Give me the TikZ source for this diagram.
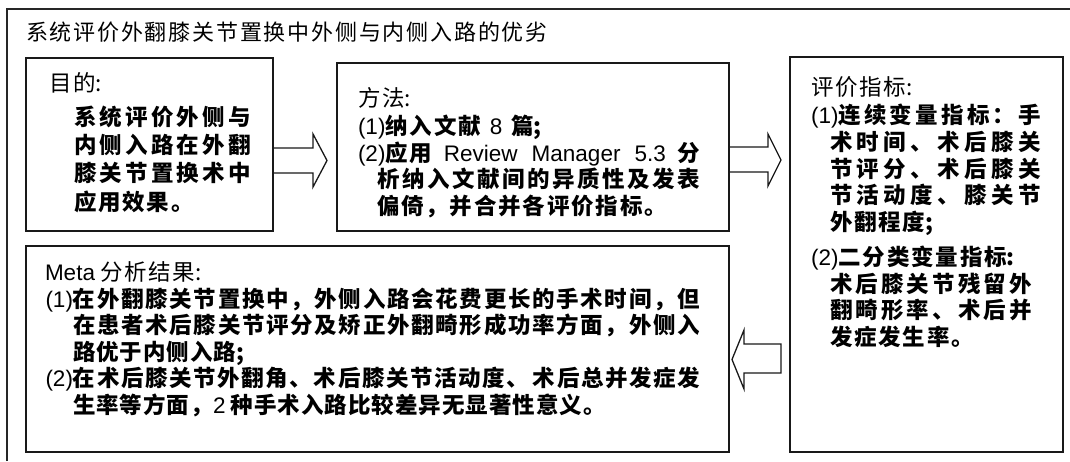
\documentclass[tikz,border=0pt]{standalone}
\usepackage{fontspec}
\setmainfont{Noto Sans CJK SC}
\newfontfamily\cjk{Noto Sans CJK SC}
\newfontfamily\lat{Liberation Sans}
\newcommand\La[1]{{\lat\mdseries #1}}
% inter-character glue for CJK text (allows justification)
\newdimen\cjkgap \cjkgap=1.8pt
\newcommand\tightgap{\cjkgap=1pt\relax}
\XeTeXinterchartokenstate=1
\chardef\cjkcls=20
\newcount\cjkcnt
\cjkcnt="4E00
\loop
  \XeTeXcharclass\cjkcnt=\cjkcls
  \advance\cjkcnt by 1
\ifnum\cjkcnt<"A000 \repeat
\XeTeXcharclass"3001=\cjkcls
\XeTeXcharclass"3002=\cjkcls
\XeTeXcharclass"FF0C=\cjkcls
\XeTeXcharclass"FF1A=\cjkcls
\XeTeXcharclass"FF1B=\cjkcls
\XeTeXinterchartoks\cjkcls\cjkcls={\hskip\cjkgap plus 3pt minus 1.5pt\relax}
\tikzset{
  box/.style={draw=black!90, line width=1.8pt, inner sep=0pt, outer sep=0pt, anchor=north west},
  tx/.style={anchor=base west, inner sep=0pt, outer sep=0pt},
  ttl/.style={font=\cjk\fontsize{22}{22}\selectfont},
  rg/.style={font=\cjk\fontsize{22.5}{22.5}\selectfont},
  bd/.style={font=\cjk\bfseries\fontsize{22.5}{22.5}\selectfont},
  bdn/.style={font=\cjk\bfseries\fontsize{22.5}{22.5}\selectfont\tightgap},
  barrow/.style={draw=black!90, line width=1.3pt, line join=miter},
  outerline/.style={draw=black!85, line width=1.5pt}
}
\begin{document}
\begin{tikzpicture}[x=1pt, y=-1pt]
\useasboundingbox (0,0) rectangle (1070,461);
\fill[white] (0,0) rectangle (1070,461);
\draw[outerline] (7,461) -- (7,9) -- (1070,9);
\node[ttl,tx] (title) at (26,40.6) {系统评价外翻膝关节置换中外侧与内侧入路的优劣};
% box 1
\node[box, minimum width=247pt, minimum height=173.3pt] (b1) at (25.7,57.7) {};
\node[rg,tx] (h1) at (49,91.4) {目的:};
\node[bd,tx] (p11) at (74,125.4) {\makebox[177pt][s]{系统评价外侧与}};
\node[bd,tx] (p12) at (74,153.7) {\makebox[177pt][s]{内侧入路在外翻}};
\node[bd,tx] (p13) at (74,181.7) {\makebox[177pt][s]{膝关节置换术中}};
\node[bd,tx] (p14) at (74,210.1) {应用效果。};
% box 2
\node[box, minimum width=392pt, minimum height=167.7pt] (b2) at (337,63.3) {};
\node[rg,tx] (h2) at (358,106.4) {方法:};
\node[bd,tx] (p21) at (358,134.6) {\La{(1)}纳入文献 \,\La{8}\, 篇;};
\node[bd,tx] (p22) at (358,161.3) {\makebox[342pt][s]{\La{(2)}\hbox{应用} \La{Review Manager 5.3} 分}};
\node[bd,tx] (p23) at (377,187.9) {\makebox[323pt][s]{析纳入文献间的异质性及发表}};
\node[bd,tx] (p24) at (377,214.6) {偏倚，并合并各评价指标。};
% box 3
\node[box, minimum width=273pt, minimum height=395.3pt] (b3) at (790,56.7) {};
\node[rg,tx] (h3) at (811,95.4) {评价指标:};
\node[bd,tx] (p31) at (811,123.7) {\makebox[230pt][s]{\La{(1)}连续变量指标：手}};
\node[bd,tx] (p32) at (830,150.4) {\makebox[211pt][s]{术时间、术后膝关}};
\node[bd,tx] (p33) at (830,177) {\makebox[211pt][s]{节评分、术后膝关}};
\node[bd,tx] (p34) at (830,203.7) {\makebox[211pt][s]{节活动度、膝关节}};
\node[bd,tx] (p35) at (830,230.7) {外翻程度;};
\node[bd,tx] (p36) at (811,265.4) {\La{(2)}二分类变量指标:};
\node[bd,tx] (p37) at (830,292) {\makebox[202pt][s]{术后膝关节残留外}};
\node[bd,tx] (p38) at (830,318.7) {\makebox[202pt][s]{翻畸形率、术后并}};
\node[bd,tx] (p39) at (830,345.4) {发症发生率。};
% box 4
\node[box, minimum width=703.3pt, minimum height=206pt] (b4) at (25.7,246) {};
\node[rg,tx] (h4) at (45,280.4) {\La{Meta} 分析结果:};
\node[bdn,tx] (p41) at (45.5,307) {\makebox[654.5pt][s]{\La{(1)}在外翻膝关节置换中，外侧入路会花费更长的手术时间，但}};
\node[bdn,tx] (p42) at (73,333.7) {\makebox[627pt][s]{在患者术后膝关节评分及矫正外翻畸形成功率方面，外侧入}};
\node[bdn,tx] (p43) at (73,360.4) {路优于内侧入路;};
\node[bdn,tx] (p44) at (45.5,386.4) {\makebox[654.5pt][s]{\La{(2)}在术后膝关节外翻角、术后膝关节活动度、\,术后总并发症发}};
\node[bdn,tx] (p45) at (73,413.7) {生率等方面，\La{2} 种手术入路比较差异无显著性意义。};
% block arrows
\draw[barrow] (b1.east |- 0,148) -- (313,148) -- (313,134) -- (327,160.5) -- (313,187) -- (313,173) -- (b1.east |- 0,173);
\draw[barrow] (b2.east |- 0,147) -- (768,147) -- (768,134) -- (781,160) -- (768,186) -- (768,172) -- (b2.east |- 0,172);
\draw[barrow] (b3.west |- 0,344) ++(-9,0) -- (744,344) -- (744,330) -- (732,359.5) -- (744,389) -- (744,373) -- (781,373) -- cycle;
\end{tikzpicture}
\end{document}
